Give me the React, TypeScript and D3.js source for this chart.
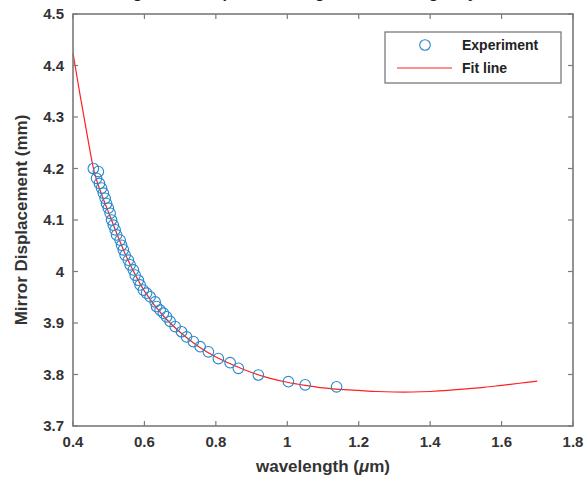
import React from "react";
import * as d3 from "d3";

const expLambda = [0.457, 0.471, 0.466, 0.474, 0.480, 0.485, 0.490, 0.494, 0.499, 0.504, 0.508, 0.513, 0.518, 0.522, 0.532, 0.536, 0.541, 0.546, 0.555, 0.560, 0.569, 0.574, 0.583, 0.588, 0.597, 0.606, 0.616, 0.630, 0.634, 0.644, 0.653, 0.662, 0.672, 0.686, 0.704, 0.718, 0.737, 0.756, 0.779, 0.807, 0.840, 0.863, 0.919, 1.003, 1.050, 1.138];
const expDisp = [4.200, 4.194, 4.181, 4.171, 4.162, 4.152, 4.142, 4.132, 4.123, 4.113, 4.100, 4.090, 4.081, 4.071, 4.061, 4.051, 4.042, 4.032, 4.022, 4.013, 4.003, 3.993, 3.983, 3.974, 3.964, 3.958, 3.951, 3.941, 3.932, 3.925, 3.919, 3.912, 3.903, 3.893, 3.883, 3.873, 3.864, 3.854, 3.844, 3.831, 3.823, 3.812, 3.799, 3.786, 3.780, 3.776];

const fitLambda = [0.40, 0.42, 0.44, 0.46, 0.48, 0.50, 0.55, 0.60, 0.65, 0.70, 0.75, 0.80, 0.85, 0.90, 0.95, 1.00, 1.05, 1.10, 1.15, 1.20, 1.25, 1.30, 1.35, 1.40, 1.45, 1.50, 1.55, 1.60, 1.65, 1.70];
const fitDisp = [4.424, 4.342, 4.264, 4.192, 4.150, 4.114, 4.028, 3.962, 3.916, 3.882, 3.855, 3.834, 3.818, 3.804, 3.793, 3.785, 3.779, 3.774, 3.771, 3.769, 3.767, 3.766, 3.766, 3.767, 3.769, 3.772, 3.775, 3.779, 3.783, 3.787];

const xTicks = [0.4, 0.6, 0.8, 1, 1.2, 1.4, 1.6, 1.8];
const yTicks = [3.7, 3.8, 3.9, 4, 4.1, 4.2, 4.3, 4.4, 4.5];

const W = 587, H = 487;
const L = 73, R = 573, T = 14, B = 426;

export default function App() {
  const x = d3.scaleLinear().domain([0.4, 1.8]).range([L, R]);
  const y = d3.scaleLinear().domain([3.7, 4.5]).range([B, T]);
  const line = d3.line<number>()
    .x((_, i) => x(fitLambda[i]))
    .y((d) => y(d))
    .curve(d3.curveCatmullRom);
  const axisColor = "#7a7a7a";
  const font = "'Liberation Sans', Arial, Helvetica, sans-serif";
  const tl = 5;
  return (
    <svg width={W} height={H} style={{ position: "absolute", left: 0, top: 0 }} fontFamily={font}>
      <rect x={0} y={0} width={W} height={H} fill="#fff" />
      <text x={(L + R) / 2} y={-2} textAnchor="middle" fontWeight="bold" fontSize={16} fill="#222">
        Fitting Mirror Displacement against wavelength by Sellmeier
      </text>
      <path d={line(fitDisp) || ""} fill="none" stroke="#ff2020" strokeWidth={1.2} />
      {expDisp.map((v, i) => (
        <circle key={i} cx={x(expLambda[i])} cy={y(v)} r={5.3} fill="none" stroke="#2a86c8" strokeWidth={1.1} />
      ))}
      {xTicks.map((t) => (
        <g key={"x" + t}>
          <line x1={x(t)} x2={x(t)} y1={B} y2={B - tl} stroke={axisColor} strokeWidth={1.2} />
          <line x1={x(t)} x2={x(t)} y1={T} y2={T + tl} stroke={axisColor} strokeWidth={1.2} />
          <text x={x(t)} y={B + 21} textAnchor="middle" fontWeight="bold" fontSize={15} fill="#333">{t}</text>
        </g>
      ))}
      {yTicks.map((t) => (
        <g key={"y" + t}>
          <line x1={L} x2={L + tl} y1={y(t)} y2={y(t)} stroke={axisColor} strokeWidth={1.2} />
          <line x1={R} x2={R - tl} y1={y(t)} y2={y(t)} stroke={axisColor} strokeWidth={1.2} />
          <text x={L - 9} y={y(t) + 5} textAnchor="end" fontWeight="bold" fontSize={15} fill="#333">{t}</text>
        </g>
      ))}
      <rect x={L} y={T} width={R - L} height={B - T} fill="none" stroke={axisColor} strokeWidth={1.6} />
      <text x={(L + R) / 2} y={472} textAnchor="middle" fontWeight="bold" fontSize={17} fill="#333">
        wavelength (<tspan fontStyle="italic">μ</tspan>m)
      </text>
      <text transform={`translate(27,${(T + B) / 2}) rotate(-90)`} textAnchor="middle" fontWeight="bold" fontSize={17} fill="#333">
        Mirror Displacement (mm)
      </text>
      <g>
        <rect x={385} y={32} width={176} height={51} fill="#fff" stroke={axisColor} strokeWidth={1.3} />
        <circle cx={425} cy={45} r={5.3} fill="none" stroke="#2a86c8" strokeWidth={1.1} />
        <line x1={397} x2={452} y1={68} y2={68} stroke="#ff2020" strokeWidth={1.2} />
        <text x={462} y={50} fontWeight="bold" fontSize={14} fill="#222">Experiment</text>
        <text x={462} y={73} fontWeight="bold" fontSize={14} fill="#222">Fit line</text>
      </g>
    </svg>
  );
}
